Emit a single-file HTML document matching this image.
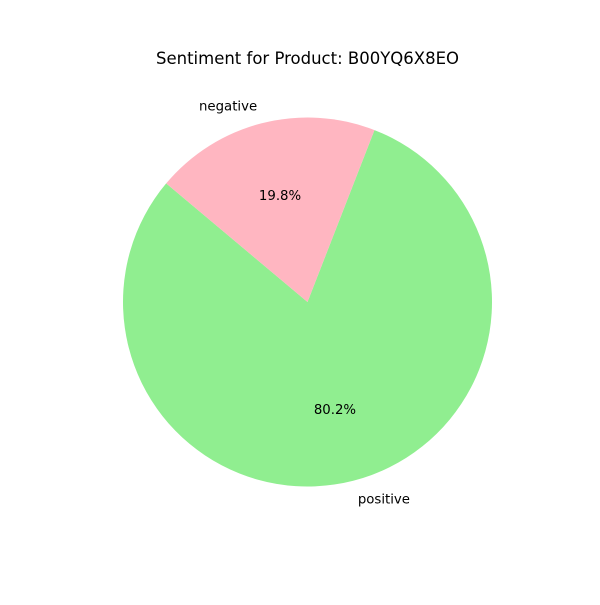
<!DOCTYPE html>
<html><head><meta charset="utf-8"><style>
html,body{margin:0;padding:0;background:#fff;}
svg text{font-family:"DejaVu Sans","Liberation Sans",sans-serif;}
</style></head><body>
<svg id="chart" width="600" height="600" viewBox="0 0 600 600">
<rect width="600" height="600" fill="#fff"/>
<text x="307.5" y="64" text-anchor="middle" font-size="16.5" fill="#000">Sentiment for Product: B00YQ6X8EO</text>
</svg>
<script>
const labels = ['positive', 'negative'];
const values = [80.2, 19.8];
const colors = ['#90ee90', '#ffb6c1'];
const startAngle = 140;
const cx = 307.5, cy = 302, r = 184.5;
const svg = document.getElementById('chart');
const NS = 'http://www.w3.org/2000/svg';
const total = values.reduce((a, b) => a + b, 0);
function pt(deg, rad) { const a = deg * Math.PI / 180; return [cx + rad * Math.cos(a), cy - rad * Math.sin(a)]; }
let ang = startAngle;
values.forEach((v, i) => {
  const sweep = v / total * 360;
  const a0 = ang, a1 = ang + sweep;
  const p0 = pt(a0, r), p1 = pt(a1, r);
  const large = sweep > 180 ? 1 : 0;
  const path = document.createElementNS(NS, 'path');
  path.setAttribute('d', `M${cx},${cy} L${p0[0]},${p0[1]} A${r},${r} 0 ${large} 0 ${p1[0]},${p1[1]} Z`);
  path.setAttribute('fill', colors[i]);
  
  
  svg.appendChild(path);
  const mid = (a0 + a1) / 2;
  const lp = pt(mid, r * 1.1);
  const lt = document.createElementNS(NS, 'text');
  lt.setAttribute('x', lp[0]); lt.setAttribute('y', lp[1] + 5);
  lt.setAttribute('font-size', '13.3');
  lt.setAttribute('text-anchor', Math.cos(mid * Math.PI / 180) >= 0 ? 'start' : 'end');
  lt.textContent = labels[i];
  
  
  svg.appendChild(lt);
  const pp = pt(mid, r * 0.6);
  const pt2 = document.createElementNS(NS, 'text');
  pt2.setAttribute('x', pp[0]); pt2.setAttribute('y', pp[1] + 5);
  pt2.setAttribute('font-size', '13.3');
  pt2.setAttribute('text-anchor', 'middle');
  pt2.textContent = v.toFixed(1) + '%';
  
  
  svg.appendChild(pt2);
  ang = a1;
});
</script>
</body></html>
